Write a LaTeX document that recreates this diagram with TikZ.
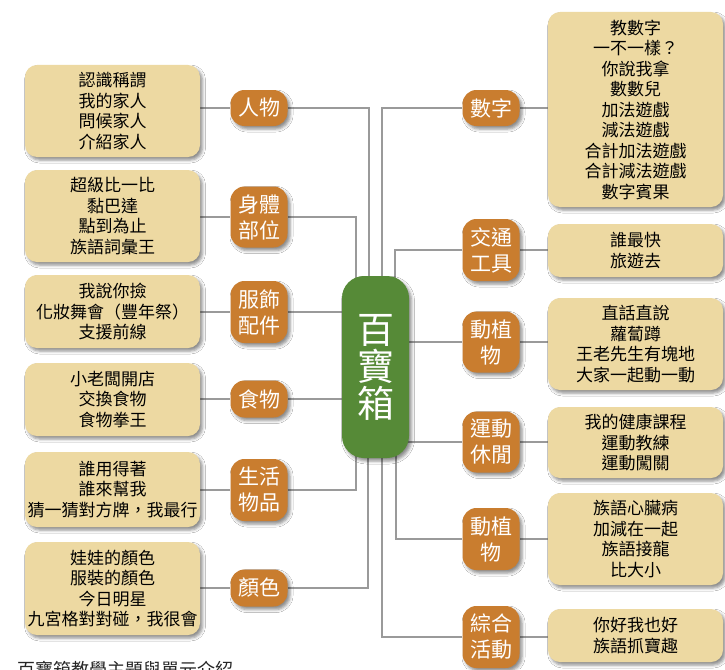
\documentclass[tikz,border=0pt]{standalone}
\usepackage{fontspec}
\setmainfont{Noto Sans CJK TC}
\usetikzlibrary{shadows.blur}
\pgfdeclarelayer{bg}
\pgfsetlayers{bg,main}
\definecolor{catorange}{HTML}{C97D2F}
\definecolor{leafbeige}{HTML}{EDD9A2}
\definecolor{hubgreen}{HTML}{568A37}
\definecolor{linkgray}{HTML}{9A9A9A}
\begin{document}
\begin{tikzpicture}[x=1pt,y=-1pt,
  shadowed/.style={blur shadow={shadow xshift=2.5pt,shadow yshift=-3pt,shadow blur radius=3pt,shadow opacity=45}},
  leafbox/.style={shadowed, fill=leafbeige, rounded corners=12pt, minimum width=175pt, inner sep=0pt, align=center, text=black, font=\fontsize{17}{20.5}\selectfont},
  catbox/.style={shadowed, fill=catorange, rounded corners=14pt, minimum width=57pt, inner sep=0pt, align=center, text=white, font=\fontsize{21}{26}\selectfont},
  hubbox/.style={shadowed, fill=hubgreen, rounded corners=22pt, minimum width=67pt, minimum height=182pt, inner sep=0pt, align=center, text=white, font=\fontsize{37}{37}\selectfont},
  link/.style={draw=linkgray, line width=1.2pt}]
\useasboundingbox (0,0) rectangle (725,669);

% hub
\node[hubbox] (hub) at (375.5,367) {百\\寶\\箱};

% left leaves
\node[leafbox, minimum height=92pt] (L1) at (112.5,111) {認識稱謂\\我的家人\\問候家人\\介紹家人};
\node[leafbox, minimum height=92pt] (L2) at (112.5,216) {超級比一比\\黏巴達\\點到為止\\族語詞彙王};
\node[leafbox, minimum height=73pt] (L3) at (112.5,311.5) {我說你撿\\化妝舞會（豐年祭）\\支援前線};
\node[leafbox, minimum height=73pt] (L4) at (112.5,399.5) {小老闆開店\\交換食物\\食物拳王};
\node[leafbox, minimum height=75pt] (L5) at (112.5,489.5) {誰用得著\\誰來幫我\\猜一猜對方牌，我最行};
\node[leafbox, minimum height=93pt] (L6) at (112.5,588.5) {娃娃的顏色\\服裝的顏色\\今日明星\\九宮格對對碰，我很會};

% right leaves
\node[leafbox, minimum height=195pt] (R1) at (635.5,109.5) {教數字\\一不一樣？\\你說我拿\\數數兒\\加法遊戲\\減法遊戲\\合計加法遊戲\\合計減法遊戲\\數字賓果};
\node[leafbox, minimum height=53pt] (R2) at (635.5,250.5) {誰最快\\旅遊去};
\node[leafbox, minimum height=92pt] (R3) at (635.5,344) {直話直說\\蘿蔔蹲\\王老先生有塊地\\大家一起動一動};
\node[leafbox, minimum height=71pt] (R4) at (635.5,442.5) {我的健康課程\\運動教練\\運動闖關};
\node[leafbox, minimum height=92pt] (R5) at (635.5,539) {族語心臟病\\加減在一起\\族語接龍\\比大小};
\node[leafbox, minimum height=53pt] (R6) at (635.5,635.5) {你好我也好\\族語抓寶趣};

% left categories
\node[catbox, minimum height=36pt] (C1) at (259,108) {人物};
\node[catbox, minimum height=61pt] (C2) at (259,217) {身體\\部位};
\node[catbox, minimum height=62pt] (C3) at (259,312) {服飾\\配件};
\node[catbox, minimum height=37pt] (C4) at (259,399) {食物};
\node[catbox, minimum height=62pt] (C5) at (259,490) {生活\\物品};
\node[catbox, minimum height=37pt] (C6) at (259,588) {顏色};

% right categories
\node[catbox, minimum height=36pt] (D1) at (491,108) {數字};
\node[catbox, minimum height=62pt] (D2) at (491,250) {交通\\工具};
\node[catbox, minimum height=61pt] (D3) at (491,342) {動植\\物};
\node[catbox, minimum height=61pt] (D4) at (491,442) {運動\\休閒};
\node[catbox, minimum height=62pt] (D5) at (491,539) {動植\\物};
\node[catbox, minimum height=62pt] (D6) at (491,637) {綜合\\活動};

% caption (cut by the lower edge, as in the reference)
\node[anchor=north west, inner sep=0pt, text=black!85, font=\fontsize{18}{18}\selectfont] (cap) at (17,661) {百寶箱教學主題與單元介紹};

\begin{pgfonlayer}{bg}
  \fill[white] (0,0) rectangle (725,669);
  % leaf to category
  \foreach \n in {1,...,6} {
    \draw[link] (L\n.east |- C\n.west) -- (C\n.west);
    \draw[link] (R\n.west |- D\n.east) -- (D\n.east);
  }
  % left categories to hub
  \draw[link] (C1.east) -| ([xshift=-6.5pt]hub.center);
  \draw[link] (C2.east) -| ([xshift=-19.5pt]hub.center);
  \draw[link] (C3.east) -- (C3.east -| hub.center);
  \draw[link] (C4.east) -- (C4.east -| hub.center);
  \draw[link] (C5.east) -| ([xshift=-19.5pt]hub.center);
  \draw[link] (C6.east) -| ([xshift=-7.5pt]hub.center);
  % right categories to hub
  \draw[link] (D1.west) -| ([xshift=6.5pt]hub.center);
  \draw[link] (D2.west) -| ([xshift=19.5pt]hub.center);
  \draw[link] (D3.west) -- (D3.west -| hub.center);
  \draw[link] (D4.west) -- (D4.west -| hub.center);
  \draw[link] (D5.west) -| ([xshift=20.5pt]hub.center);
  \draw[link] (D6.west) -| ([xshift=6.5pt]hub.center);
\end{pgfonlayer}
\end{tikzpicture}
\end{document}
